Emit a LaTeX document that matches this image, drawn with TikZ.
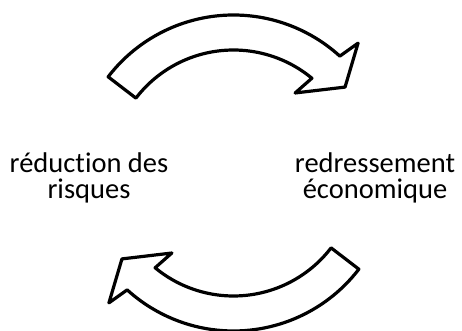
\documentclass[tikz,border=0pt]{standalone}
\usepackage{fontspec}
\setmainfont{Carlito}[Ligatures=NoCommon]
\begin{document}
\begin{tikzpicture}[x=1pt,y=1pt,
  cyclearrow/.style={draw=black,fill=white,line width=3.2pt,line join=round},
  lbl/.style={align=center,inner sep=0pt,font=\fontsize{28.5}{26.7}\selectfont}]
\useasboundingbox (0,0) rectangle (462,331);
\begin{scope}[shift={(233.5,158)}]
  \draw[cyclearrow] (142.5:158) arc[start angle=142.5,end angle=47.7,radius=158]
    -- (46.2:180) -- (37.6:140.8) -- (52.4:101) -- (50.4:123)
    arc[start angle=50.4,end angle=142.5,radius=123] -- cycle;
  \draw[cyclearrow,rotate=180] (142.5:158) arc[start angle=142.5,end angle=47.7,radius=158]
    -- (46.2:180) -- (37.6:140.8) -- (52.4:101) -- (50.4:123)
    arc[start angle=50.4,end angle=142.5,radius=123] -- cycle;
\end{scope}
\node[lbl] (left) at (89,153) {réduction des\\risques};
\node[lbl] (right) at (375,153) {redressement\\économique};
\end{tikzpicture}
\end{document}
